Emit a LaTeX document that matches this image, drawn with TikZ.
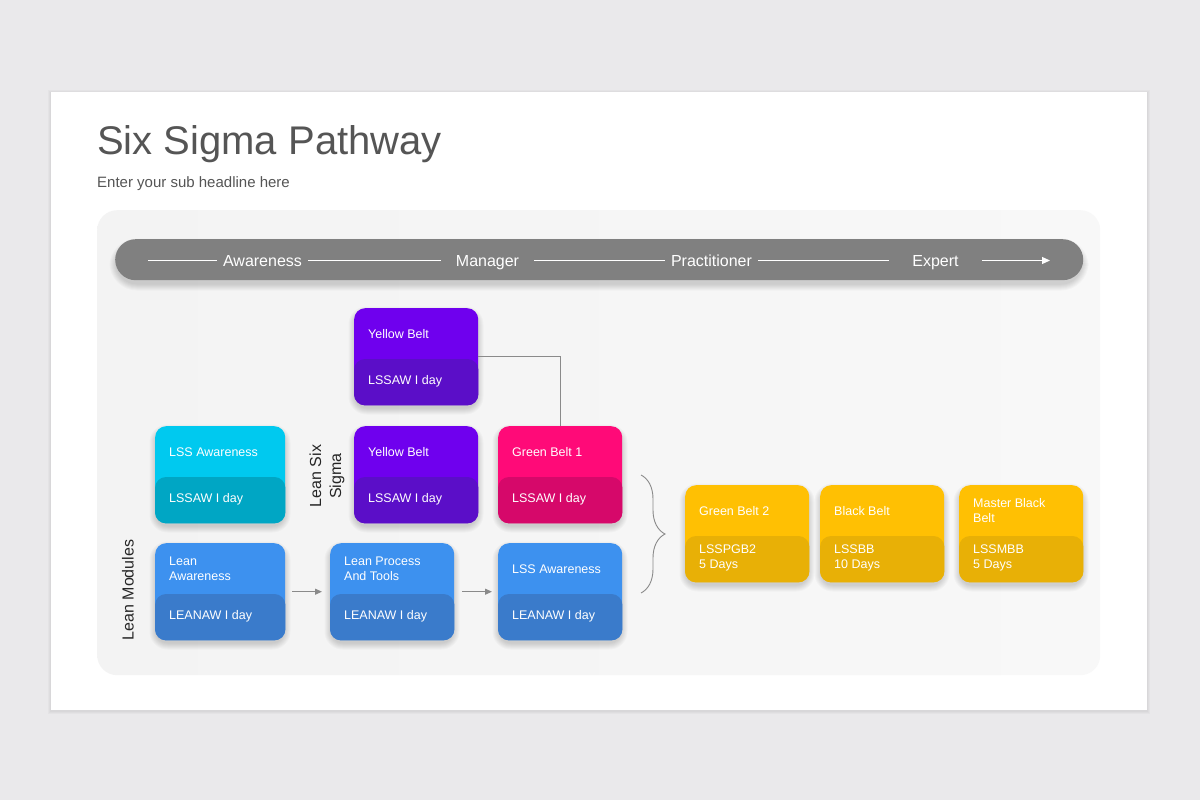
\documentclass[tikz,border=0pt]{standalone}
\usepackage{fontspec}
\setmainfont{Liberation Sans}
\usetikzlibrary{calc,arrows.meta,decorations.pathreplacing}
\definecolor{pagebg}{HTML}{EAE9EB}
\definecolor{panelL}{HTML}{F3F3F3}
\definecolor{panelR}{HTML}{F8F8F8}
\definecolor{titlegray}{HTML}{555555}
\definecolor{bargray}{HTML}{808080}
\definecolor{cyanT}{HTML}{00C9EF}
\definecolor{cyanB}{HTML}{00A6C4}
\definecolor{purpT}{HTML}{6F00EE}
\definecolor{purpB}{HTML}{5B0EC8}
\definecolor{pinkT}{HTML}{FF0A78}
\definecolor{pinkB}{HTML}{D6086A}
\definecolor{blueT}{HTML}{3D91EF}
\definecolor{blueB}{HTML}{3A7BCB}
\definecolor{yellT}{HTML}{FFC003}
\definecolor{yellB}{HTML}{E8B006}
\definecolor{linegray}{HTML}{8A8A8A}
\tikzset{
  beltbox/.style={rectangle, rounded corners=11pt, inner sep=0pt, minimum height=97pt, anchor=north west},
  beltlab/.style={anchor=west, text=white, font=\fontsize{12.5}{15}\selectfont, align=left, inner sep=0pt},
  barlab/.style={text=white, font=\fontsize{16}{19}\selectfont, inner ysep=0pt, inner xsep=6pt, text height=11.5pt, text depth=0pt},
  barline/.style={draw=white, line width=1.1pt},
  sidelab/.style={rotate=90, text=black!85, font=\fontsize{16}{20}\selectfont, align=center, inner sep=0pt},
  conn/.style={draw=linegray, line width=1pt},
  flowarrow/.style={draw=linegray, line width=1pt, -{Triangle[length=7pt,width=6pt]}},
  shadowlayer/.style={fill=black, opacity=0.025},
}
% soft shadow: x, y (top-left), width, height, radius, y-offset
\newcommand\softshadow[6]{%
  \foreach \s in {1,...,7}{%
    \fill[shadowlayer, rounded corners={#5+\s}] ({#1-\s+1.5},{#2+#6-\s+1.5}) rectangle ({#1+#3+\s-1.5},{#2+#4+#6+\s-1.5});
  }%
}
\newcommand\beltnode[8]{%
  \softshadow{#2}{#3}{#8}{97}{11}{4}
  \node[beltbox, fill=#4, minimum width=#8] (#1) at (#2,#3) {};
  \fill[#5, rounded corners=11pt] ($(#1.north west)+(0,51)$) rectangle (#1.south east);
  \node[beltlab] (#1t) at ($(#1.north west)+(14,26)$) {#6};
  \node[beltlab] (#1b) at ($(#1.north west)+(14,73)$) {#7};
}
\begin{document}
\begin{tikzpicture}[x=1pt,y=-1pt]
\useasboundingbox (0,0) rectangle (1200,800);
\fill[pagebg] (0,0) rectangle (1200,800);
\foreach \s in {1,...,3}{\fill[black, opacity=0.025] ({51-\s},{92-\s+1}) rectangle ({1147+\s},{710+\s+1});}
\node[rectangle, fill=white, inner sep=0pt, minimum width=1096pt, minimum height=618pt, anchor=north west] (slide) at (51,92) {};
\node[rectangle, left color=panelL, right color=panelR, rounded corners=20pt, inner sep=0pt, minimum width=1003pt, minimum height=465pt, anchor=north west] (panel) at (97,210) {};
% title
\node[anchor=west, text=titlegray, font=\fontsize{40}{48}\selectfont, inner sep=0pt] (title) at (97,144) {Six Sigma Pathway};
\node[anchor=west, text=titlegray, font=\fontsize{15}{18}\selectfont, inner sep=0pt] (subtitle) at (97,184) {Enter your sub headline here};
% bar
\softshadow{115}{239}{968}{41}{20.5}{5}
\node[rectangle, fill=bargray, rounded corners=20.5pt, inner sep=0pt, minimum width=968pt, minimum height=41pt, anchor=north west] (bar) at (115,239) {};
\coordinate (bs) at (148,260.5);
\coordinate (be) at (1050,260.5);
\node[barlab] (aw) at (262.5,260.5) {Awareness};
\node[barlab, inner xsep=15pt] (mg) at (487.5,260.5) {Manager};
\node[barlab] (pr) at (711.5,260.5) {Practitioner};
\node[barlab, inner xsep=23pt] (ex) at (935.5,260.5) {Expert};
\draw[barline] (bs) -- (aw);
\draw[barline] (aw) -- (mg);
\draw[barline] (mg) -- (pr);
\draw[barline] (pr) -- (ex);
\draw[barline, -{Triangle[length=8pt,width=7pt]}] (ex) -- (be);
% boxes
\beltnode{yb1}{354}{308}{purpT}{purpB}{Yellow Belt}{LSSAW I day}{124}
\beltnode{lssa}{155}{426}{cyanT}{cyanB}{LSS Awareness}{LSSAW I day}{130}
\beltnode{yb2}{354}{426}{purpT}{purpB}{Yellow Belt}{LSSAW I day}{124}
\beltnode{gb1}{498}{426}{pinkT}{pinkB}{Green Belt 1}{LSSAW I day}{124}
\beltnode{la}{155}{543}{blueT}{blueB}{Lean\\Awareness}{LEANAW I day}{130}
\beltnode{lp}{330}{543}{blueT}{blueB}{Lean Process\\And Tools}{LEANAW I day}{124}
\beltnode{lss2}{498}{543}{blueT}{blueB}{LSS Awareness}{LEANAW I day}{124}
\beltnode{gb2}{685}{485}{yellT}{yellB}{Green Belt 2}{LSSPGB2\\5 Days}{124}
\beltnode{bb}{820}{485}{yellT}{yellB}{Black Belt}{LSSBB\\10 Days}{124}
\beltnode{mbb}{959}{485}{yellT}{yellB}{Master Black\\Belt}{LSSMBB\\5 Days}{124}
% side labels
\node[sidelab] (lsslab) at (327,476) {Lean Six\\Sigma};
\node[sidelab] (lmlab) at (128,590) {Lean Modules};
% connectors
\draw[conn] (yb1.east) -| (gb1.north);
\draw[flowarrow, shorten <=7pt, shorten >=8pt] (la.east |- la.center) -- (lp.west |- la.center);
\draw[flowarrow, shorten <=8pt, shorten >=6pt] (lp.east |- lp.center) -- (lss2.west |- lp.center);
\coordinate (brt) at (641,475);
\coordinate (brb) at (641,593);
\draw[draw=linegray, line width=0.9pt, decorate, decoration={brace, amplitude=24pt, aspect=0.5}] (brt) -- (brb);
\end{tikzpicture}
\end{document}
